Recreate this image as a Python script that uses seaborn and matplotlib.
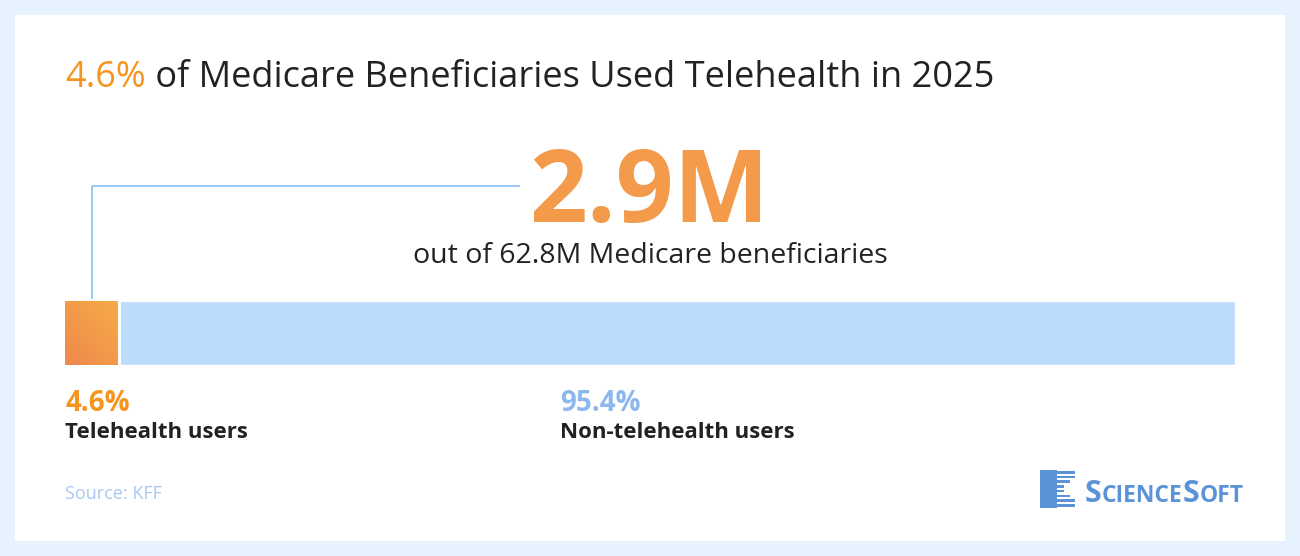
import numpy as np
import pandas as pd
import matplotlib
matplotlib.use('Agg')
import matplotlib.pyplot as plt
import seaborn as sns
from matplotlib.patches import Rectangle

# data
groups = ['Telehealth users', 'Non-telehealth users']
shares = [4.6, 95.4]
users_m = 2.9
total_m = 62.8
source = 'Source: KFF'

orange = '#F7941D'
bar_orange = '#F39A4B'
bar_blue = '#BBDCFB'
label_blue = '#8DB8EE'
dark = '#222222'

sns.set_theme(style='white')
plt.rcParams['font.family'] = ['Open Sans', 'DejaVu Sans']

fig = plt.figure(figsize=(13, 5.56), dpi=100)
fig.patch.set_facecolor('#E6F2FD')

# background axes in pixel coords
bg = fig.add_axes([0, 0, 1, 1])
bg.set_xlim(0, 1300)
bg.set_ylim(556, 0)
bg.axis('off')
bg.add_patch(Rectangle((15, 15), 1270, 526, facecolor='white', edgecolor='none'))

# title, two colours
t1 = bg.text(65, 87, f'{shares[0]}%', color=orange, fontsize=26, va='baseline', ha='left')
bg.annotate(' of Medicare Beneficiaries Used Telehealth in 2025', xy=(1, 0), xycoords=t1,
            va='bottom', ha='left', color=dark, fontsize=26)

# big number
bg.text(649, 222, f'{users_m}M', color=bar_orange, fontsize=73, fontweight='bold',
        ha='center', va='baseline')
bg.text(650, 263, f'out of {total_m}M Medicare beneficiaries', color=dark, fontsize=20.5,
        ha='center', va='baseline')

# connector line
bg.plot([92, 92, 520], [299, 186, 186], color='#90C2F2', lw=1.3, solid_capstyle='butt')

# stacked bar
ax = fig.add_axes([65 / 1300, (556 - 365) / 556, 1170 / 1300, 64 / 556])
df = pd.DataFrame({'group': groups, 'share': shares})
sns.barplot(x=[sum(shares)], y=['all'], color=bar_blue, width=1, ax=ax, saturation=1)
sns.barplot(x=df['share'].iloc[:1], y=['all'], color=bar_orange, width=1, ax=ax, saturation=1)
ax.set_xlim(0, sum(shares))
ax.set_ylim(0.5, -0.5)
ax.axis('off')

# gradient on orange segment
orange_patch = ax.patches[-1]
grad = np.linspace(0, 1, 100)
gx, gy = np.meshgrid(grad, grad)
g = (gx + (1 - gy)) / 2
cmap = matplotlib.colors.LinearSegmentedColormap.from_list('o', ['#EF884D', '#F6AC46'])
im = ax.imshow(g, extent=(0, shares[0], 0.5, -0.5), cmap=cmap, aspect='auto', zorder=3)
im.set_clip_path(orange_patch)
ax.axvline(shares[0], color='white', lw=2.2, zorder=4)

# labels under bar
bg.text(65, 411, f'{shares[0]}%', color=orange, fontsize=20, fontweight='bold', va='baseline')
bg.text(65, 438, groups[0], color=dark, fontsize=16, fontweight='bold', va='baseline')
bg.text(560, 411, f'{shares[1]}%', color=label_blue, fontsize=20, fontweight='bold', va='baseline')
bg.text(560, 438, groups[1], color=dark, fontsize=16, fontweight='bold', va='baseline')

bg.text(65, 499, source, color='#A9C8F0', fontsize=13, va='baseline')

# logo
logo = '#5B93D6'
bg.add_patch(Rectangle((1040, 470), 17, 38, facecolor=logo, edgecolor='none'))
for i in range(8):
    y = 471 + i * 4.7
    x0 = 1057 if i in (0, 1, 6, 7) else 1052
    bg.add_patch(Rectangle((x0, y), 18 if i not in (3, 4) else 12, 2.6, facecolor=logo, edgecolor='none'))
bg.text(1085, 502, 'S', color=logo, fontsize=22, fontweight='bold', va='baseline')
bg.text(1102, 502, 'CIENCE', color=logo, fontsize=16.5, fontweight='bold', va='baseline')
bg.text(1183, 502, 'S', color=logo, fontsize=22, fontweight='bold', va='baseline')
bg.text(1200, 502, 'OFT', color=logo, fontsize=16.5, fontweight='bold', va='baseline')

fig.savefig('out.png', dpi=100, facecolor=fig.get_facecolor())
